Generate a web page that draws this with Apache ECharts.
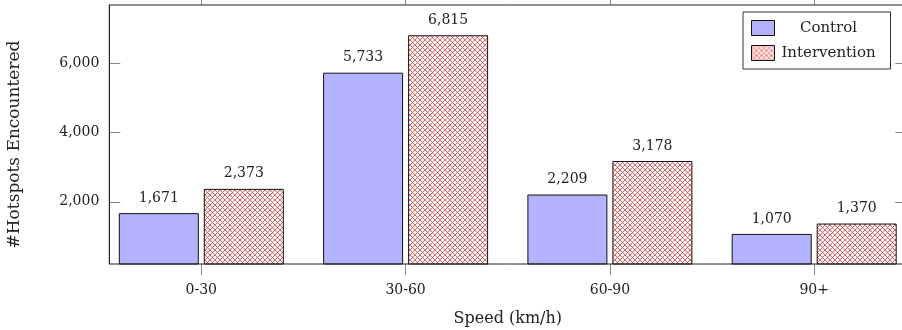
<!DOCTYPE html>
<html>
<head>
<meta charset="utf-8">
<script src="https://cdn.jsdelivr.net/npm/echarts@6/dist/echarts.min.js"></script>
<style>
html,body{margin:0;padding:0;background:#fff;overflow:hidden;width:902px;height:330px;}
#chart{width:930px;height:330px;}
</style>
</head>
<body>
<div id="chart"></div>
<script>
const categories = ['0-30', '30-60', '60-90', '90+'];
const controlValues = [1671, 5733, 2209, 1070];
const interventionValues = [2373, 6815, 3178, 1370];
const seriesNames = ['Control', 'Intervention'];
const yTicks = [2000, 4000, 6000];
const xTitle = 'Speed (km/h)';
const yTitle = '#Hotspots Encountered';

const FONT = 'DejaVu Serif';
const fmt = v => Number(v).toLocaleString('en-US');

// crosshatch pattern tile
function makeHatch() {
  const c = document.createElement('canvas');
  const s = 5;
  c.width = s; c.height = s;
  const ctx = c.getContext('2d');
  ctx.fillStyle = '#fff';
  ctx.fillRect(0, 0, s, s);
  ctx.strokeStyle = 'rgba(255,50,50,0.8)';
  ctx.lineWidth = 1;
  ctx.beginPath();
  ctx.moveTo(-1, -1); ctx.lineTo(s + 1, s + 1);
  ctx.moveTo(-1, s + 1); ctx.lineTo(s + 1, -1);
  ctx.stroke();
  return c;
}
const hatch = { image: makeHatch(), repeat: 'repeat' };

const Y_MIN = 200, Y_MAX = 7690;
const chart = echarts.init(document.getElementById('chart'), null, { renderer: 'canvas' });

chart.setOption({
  animation: false,
  backgroundColor: '#fff',
  textStyle: { fontFamily: FONT },
  grid: [
    { left: 99.15, width: 817.2, top: 5, height: 259, show: false, outerBoundsMode: 'none', containLabel: false },
    { left: 109.3, width: 797, top: 5, height: 259, show: true, outerBoundsMode: 'none', containLabel: false, borderColor: '#222', borderWidth: 1, backgroundColor: 'transparent', z: 5 }
  ],
  legend: {
    data: seriesNames,
    orient: 'vertical',
    left: 743, top: 12,
    padding: [8, 13, 8, 8],
    itemWidth: 23, itemHeight: 15, itemGap: 9,
    icon: 'rect',
    itemStyle: { borderWidth: 1, borderColor: '#111' },
    backgroundColor: '#fff',
    borderColor: '#333', borderWidth: 1, borderRadius: 0,
    z: 10,
    formatter: '{t|{name}}',
    textStyle: {
      fontFamily: FONT, fontSize: 15, color: '#222',
      rich: { t: { width: 98, align: 'center', fontFamily: FONT, fontSize: 15, color: '#222', lineHeight: 16 } }
    }
  },
  xAxis: [
    {
      type: 'category', gridIndex: 0, data: categories, position: 'bottom',
      axisLine: { show: false },
      axisTick: { show: true, alignWithLabel: true, length: 11, lineStyle: { color: '#888', width: 1 } },
      axisLabel: { fontFamily: FONT, fontSize: 14, color: '#222', margin: 19 },
      name: xTitle, nameLocation: 'middle', nameGap: 47,
      nameTextStyle: { fontFamily: FONT, fontSize: 16, color: '#222' },
      splitLine: { show: false }
    },
    {
      type: 'category', gridIndex: 0, data: categories, position: 'top',
      axisLine: { show: false },
      axisTick: { show: true, alignWithLabel: true, length: 11, lineStyle: { color: '#888', width: 1 } },
      axisLabel: { show: false },
      splitLine: { show: false }
    },
    { type: 'value', gridIndex: 1, show: false, min: 0, max: 1 }
  ],
  yAxis: [
    { type: 'value', gridIndex: 0, min: Y_MIN, max: Y_MAX, show: false },
    {
      type: 'value', gridIndex: 1, min: Y_MIN, max: Y_MAX, position: 'left',
      axisLine: { show: true, lineStyle: { color: '#222', width: 1 } },
      axisTick: { show: true, inside: true, length: 11, customValues: yTicks, lineStyle: { color: '#888', width: 1 } },
      axisLabel: { show: true, customValues: yTicks, formatter: v => fmt(v), fontFamily: FONT, fontSize: 14, color: '#222', margin: 10 },
      splitLine: { show: false },
      name: yTitle, nameLocation: 'middle', nameRotate: 90, nameGap: 86,
      nameTextStyle: { fontFamily: FONT, fontSize: 17, color: '#222', padding: [0, 20, 0, 0] }
    },
    {
      type: 'value', gridIndex: 1, min: Y_MIN, max: Y_MAX, position: 'right',
      axisLine: { show: true, lineStyle: { color: '#222', width: 1 } },
      axisTick: { show: true, inside: true, length: 11, customValues: yTicks, lineStyle: { color: '#888', width: 1 } },
      axisLabel: { show: false },
      splitLine: { show: false }
    }
  ],
  series: [
    {
      name: seriesNames[0], type: 'bar', xAxisIndex: 0, yAxisIndex: 0,
      data: controlValues, barWidth: 80, barGap: '6.25%',
      itemStyle: { color: '#b3b3ff', borderColor: '#111', borderWidth: 1 },
      label: { show: true, position: 'top', distance: 8, formatter: p => fmt(p.value), fontFamily: FONT, fontSize: 14, color: '#222' }
    },
    {
      name: seriesNames[1], type: 'bar', xAxisIndex: 0, yAxisIndex: 0,
      data: interventionValues, barWidth: 80, barGap: '6.25%',
      itemStyle: { color: hatch, borderColor: '#111', borderWidth: 1 },
      label: { show: true, position: 'top', distance: 8, formatter: p => fmt(p.value), fontFamily: FONT, fontSize: 14, color: '#222' }
    }
  ]
});
</script>
</body>
</html>
